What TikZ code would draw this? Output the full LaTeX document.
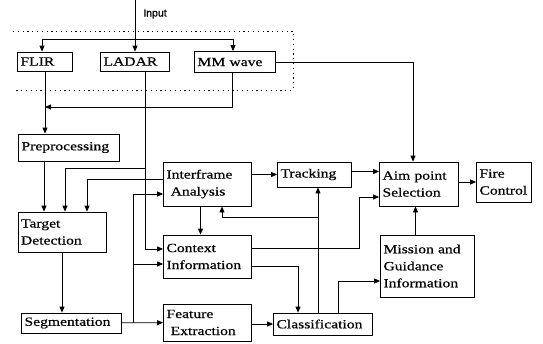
\documentclass[tikz,border=0pt]{standalone}
\usepackage{fontspec}
\setmainfont{Liberation Serif}[FakeStretch=1.25, FakeBold=0.6]
\newfontfamily\labelfont{Liberation Sans}[FakeBold=0.8]
\usepackage{tikz}
\usetikzlibrary{arrows.meta, positioning}

\begin{document}
\begin{tikzpicture}[x=1pt, y=-1pt, line width=0.8pt,
  blk/.style={draw, align=left, inner xsep=3pt, inner ysep=1pt,
    font=\fontsize{12.5}{17}\selectfont},
  arr/.style={-{Triangle[length=6pt,width=5pt]}}]
\useasboundingbox (0,0) rectangle (543,343);

% Sensors
\node[font=\labelfont\fontsize{10.5}{12}\selectfont] (input) at (155,14) {Input};
\node[blk, text width=49pt, minimum height=19pt] (flir) at (45,61.5) {FLIR};
\node[blk, text width=63pt, minimum height=19pt] (ladar) at (135,61.5) {LADAR};
\node[blk, text width=75pt, minimum height=21pt] (mmw) at (235,62) {MM wave};
\draw[dash pattern=on 1.2pt off 3.6pt, line width=1pt] (13,31) -| (293,90) -- (13,90);

% Processing chain
\node[blk, text width=95pt, minimum height=27pt] (pre) at (69,147.5) {Preprocessing};
\node[blk, text width=82pt, minimum height=40pt] (td) at (62,232) {Target\\Detection};
\node[blk, text width=94pt, minimum height=20pt] (seg) at (71.5,323) {Segmentation};
\node[blk, text width=82pt, minimum height=44pt] (iff) at (207.5,184) {Interframe\\\ Analysis};
\node[blk, text width=82pt, minimum height=43pt] (ctx) at (207.5,256.5) {Context\\Information};
\node[blk, text width=82pt, minimum height=37pt] (fe) at (207.5,322.5) {Feature\\\ Extraction};
\node[blk, text width=93pt, minimum height=22pt] (cls) at (323,324) {Classification};
\node[blk, text width=68pt, minimum height=25pt] (trk) at (314.5,174.5) {Tracking};
\node[blk, text width=73pt, minimum height=44pt] (aim) at (419,184) {Aim point\\Selection};
\node[blk, text width=49pt, minimum height=40pt] (fire) at (504,182) {Fire\\Control};
\node[blk, text width=88pt, minimum height=62pt] (mis) at (427.5,266) {Mission and\\Guidance\\Information};

% Sensor inputs
\coordinate (top) at (135,0);
\coordinate (bus) at (135,39);
\coordinate (join) at (45,107);
\draw[arr] (top) -- (ladar);
\draw[arr] (bus) -| ([xshift=-3pt]flir.north);
\draw[arr] (bus) -| ([xshift=-2pt]mmw.north);
\draw[arr] (mmw.east) -| ([xshift=-6pt]aim.north);
\draw[arr] ([xshift=-3pt]mmw.south) |- (join);
\draw[arr] (flir.south) -- (flir.south |- pre.north);
\draw[arr] ([xshift=-18pt]td.north |- pre.south) -- ([xshift=-18pt]td.north);

% LADAR line
\coordinate (ltap) at (145,168);
\draw[arr] ([xshift=10pt]ladar.south) |- ([yshift=7.5pt]ctx.west);
\draw[arr] (ltap) -| ([xshift=3pt]td.north);
\draw[arr] ([yshift=5pt]iff.west) -| ([xshift=25pt]td.north);

% Segmentation outputs
\coordinate (stap) at (133,323);
\coordinate (ctap) at (133,264);
\draw[arr] (td.south) -- (td.south |- seg.north);
\draw[arr] (seg) -- (fe);
\draw[arr] (stap) |- ([yshift=-10pt]iff.west);
\draw[arr] (ctap) -- (ctap -| ctx.west);

% Middle
\draw[arr] ([xshift=-7pt]iff.south) -- ([xshift=-7pt]ctx.north);
\draw[arr] (trk.west -| iff.east) -- (trk.west);
\draw[arr] ([yshift=3pt]trk.east) -- ([yshift=3pt]trk.east -| aim.west);
\draw[arr] (aim.east |- fire.west) -- (fire.west);
\draw[arr] ([yshift=8.5pt]ctx.east) -- ++(107,0) |- ([yshift=-13pt]aim.west);
\draw[arr] ([yshift=-9.5pt]ctx.east) -| ([xshift=-25pt]cls.north);
\draw[arr] (cls.west -| fe.east) -- (cls.west);

% Classification outputs
\coordinate (fb) at (318,217);
\draw[arr] ([xshift=-5pt]cls.north) -- ([xshift=-5pt]cls.north |- trk.south);
\draw[arr] (fb) -| ([xshift=14.5pt]iff.south);
\draw[arr] ([xshift=15pt]cls.north) |- ([yshift=-15pt]mis.west);
\draw[arr] ([xshift=-12pt]mis.north) -- ([xshift=-12pt]mis.north |- aim.south);
\end{tikzpicture}
\end{document}
